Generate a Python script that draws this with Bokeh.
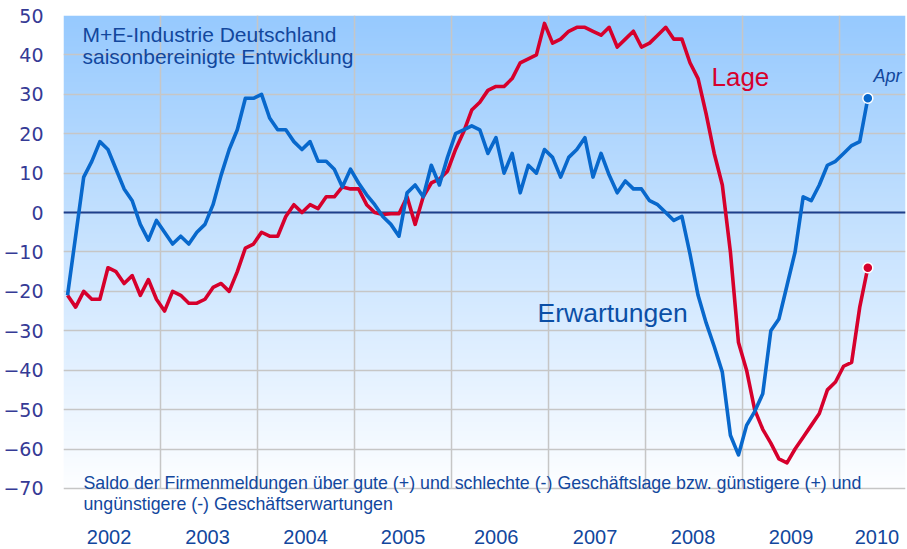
import numpy as np
from bokeh.plotting import figure
from bokeh.models import FixedTicker, Span, Label, Range1d
from bokeh.embed import file_html
from bokeh.resources import INLINE

# ---- data: monthly, Jan 2002 .. Apr 2010 ----
start_year = 2002
erwartungen = [
    -21, -6, 9, 13, 18, 16, 11, 6, 3, -3, -7, -2,            # 2002
    -5, -8, -6, -8, -5, -3, 2, 9.5, 16, 21, 29, 29,          # 2003
    30, 24, 21, 21, 18, 16, 18, 13, 13, 11, 6.5, 11,         # 2004
    7.5, 4.5, 2, -1, -3, -6, 5, 7, 4, 12, 7, 14,             # 2005
    20, 21, 22, 21, 15, 19, 10, 15, 5, 12, 10, 16,           # 2006
    14, 9, 14, 16, 19, 9, 15, 9.5, 5, 8, 6, 6,               # 2007
    3, 2, 0, -2, -1, -10.5, -21, -28, -34, -40.5, -56.5, -61.5,  # 2008
    -54, -50.5, -46, -30, -27, -18.5, -10, 4, 3, 7, 12, 13,  # 2009
    15, 17, 18, 29,                                          # 2010
]
lage = [
    -21, -24, -20, -22, -22, -14, -15, -18, -16, -21, -17, -22,   # 2002
    -25, -20, -21, -23, -23, -22, -19, -18, -20, -15, -9, -8,     # 2003
    -5, -6, -6, -1, 2, 0, 2, 1, 4, 4, 6.5, 6,                     # 2004
    6, 2, 0, -0.5, -0.3, -0.3, 4, -3, 4, 7.5, 8.5, 10.5,          # 2005
    16, 20.5, 26, 28, 31, 32, 32, 34, 38, 39, 40, 48,             # 2006
    43, 44, 46, 47, 47, 46, 45, 47, 42, 44, 46, 42,               # 2007
    43, 45, 47, 44, 44, 38, 34, 25, 15, 7, -10, -33,              # 2008
    -40, -50, -55, -58.5, -62.5, -63.5, -60, -57, -54, -51, -45, -43,  # 2009
    -39, -38, -24, -14,                                           # 2010
]
years = [2002, 2003, 2004, 2005, 2006, 2007, 2008, 2009, 2010]
year_labels = [str(y) for y in years]
y_ticks = [-70, -60, -50, -40, -30, -20, -10, 0, 10, 20, 30, 40, 50]

# month centres in fractional years
x = [start_year + (m + 0.5) / 12.0 for m in range(len(erwartungen))]

X0, X1 = 2002.0, 2010.68
YMIN, YMAX = -70, 50          # chart area
Y0 = -85.5                    # frame extends below for notes / year labels

BLUE = "#0868cc"
RED = "#d6002c"
TXT = "#12479d"
FONT = "Liberation Sans"

p = figure(width=907, height=549, x_range=Range1d(X0, X1), y_range=Range1d(Y0, YMAX),
           output_backend="svg", toolbar_location=None, title=None,
           min_border_left=63, min_border_right=2, min_border_top=15, min_border_bottom=0)
p.outline_line_color = None
p.background_fill_color = "white"
p.border_fill_color = "white"
p.xaxis.visible = False
p.xgrid.visible = False

# gradient background of the chart area
N = 480
t = np.linspace(0.0, 1.0, N)  # row 0 = bottom
top = np.array([150, 201, 254], dtype=float)
bot = np.array([253, 254, 255], dtype=float)
img = np.empty((N, 1), dtype=np.uint32)
view = img.view(dtype=np.uint8).reshape((N, 1, 4))
for c in range(3):
    view[:, 0, c] = np.round(bot[c] + (top[c] - bot[c]) * t).astype(np.uint8)
view[:, 0, 3] = 255
p.image_rgba(image=[img], x=X0, y=YMIN, dw=X1 - X0, dh=YMAX - YMIN, level="image")

# grid
p.ygrid.ticker = FixedTicker(ticks=y_ticks)
p.ygrid.grid_line_color = "#c6c6c6"
p.ygrid.grid_line_width = 1.5
vg = years[1:]
p.segment(x0=vg, y0=[YMIN] * len(vg), x1=vg, y1=[YMAX] * len(vg),
          line_color="#c6c6c6", line_width=1.5, level="underlay")

# zero line
p.add_layout(Span(location=0, dimension="width", line_color="#1d3f8c", line_width=2, level="underlay"))

# lines
p.line(x, lage, line_color=RED, line_width=3.6, line_join="round")
p.line(x, erwartungen, line_color=BLUE, line_width=3.6, line_join="round")
p.scatter(x[-1:], lage[-1:], size=10, fill_color=RED, line_color="white", line_width=1.5)
p.scatter(x[-1:], erwartungen[-1:], size=10, fill_color=BLUE, line_color="white", line_width=1.5)

# y axis
p.yaxis.ticker = FixedTicker(ticks=y_ticks)
p.yaxis.axis_line_color = None
p.yaxis.major_tick_line_color = None
p.yaxis.minor_tick_line_color = None
p.yaxis.major_tick_out = 0
p.yaxis.major_tick_in = 0
p.yaxis.major_label_standoff = 20
p.yaxis.major_label_text_font = "DejaVu Sans"
p.yaxis.major_label_text_font_size = "19px"
p.yaxis.major_label_text_color = "#353a95"

def lab(xv, yv, text, size, color, style="normal", align="left"):
    p.add_layout(Label(x=xv, y=yv, text=text, text_font=FONT, text_font_size=size,
                       text_color=color, text_font_style=style,
                       text_baseline="alphabetic", text_align=align))

# year labels (positions of the year captions under the chart)
label_pos = [2002.47, 2003.485, 2004.495, 2005.5, 2006.46, 2007.48, 2008.49, 2009.5, 2010.386]
for pos, txt in zip(label_pos, year_labels):
    lab(pos, -82.3, txt, "20px", TXT, align="center")

lab(2002.196, 45.18, "M+E-Industrie Deutschland", "21px", TXT)
lab(2002.196, 39.6, "saisonbereinigte Entwicklung", "21px", TXT)
lab(2008.68, 34.4, "Lage", "26px", RED)
lab(2010.35, 34.7, "Apr", "18px", TXT, "italic")
lab(2006.887, -25.6, "Erwartungen", "26.5px", "#0b4fa6")
lab(2002.206, -68.7, "Saldo der Firmenmeldungen über gute (+) und schlechte (-) Geschäftslage bzw. günstigere (+) und", "17.8px", TXT)
lab(2002.206, -73.9, "ungünstigere (-) Geschäftserwartungen", "17.8px", TXT)

open("out.html", "w").write(file_html(p, INLINE))
